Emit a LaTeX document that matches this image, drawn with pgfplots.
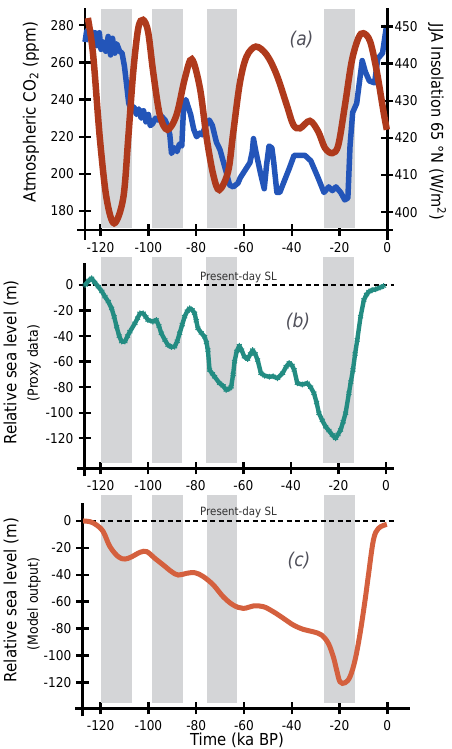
\documentclass[border=0pt]{standalone}
\usepackage{pgfplots}
\pgfplotsset{compat=1.18}
\usepackage{fontspec}
\setmainfont{DejaVu Sans}[FakeStretch=0.9]

\definecolor{shade}{RGB}{212,213,215}
\definecolor{co2blue}{RGB}{35,85,185}
\definecolor{insol}{RGB}{175,58,28}
\definecolor{proxy}{RGB}{35,140,130}
\definecolor{model}{RGB}{212,96,62}
\definecolor{panelgray}{RGB}{80,80,90}
\definecolor{sltext}{RGB}{50,50,50}

\pgfplotsset{
  panel/.style={
    scale only axis, clip=false,
    axis line style={line width=2.6pt,-},
    tick style={line width=2.4pt,black},
    major tick length=12pt, tick align=center,
    ticklabel style={font=\fontsize{13.5}{15}\selectfont, inner sep=1pt},
    /pgf/number format/assume math mode=true,
    xtick={-120,-100,...,0},
    xticklabel style={yshift=-5pt},
    yticklabel style={xshift=-4pt},
  },
}

\begin{document}
\begin{tikzpicture}[x=1pt,y=1pt]
\useasboundingbox (0,0) rectangle (451,749);

% ---------------- (a) CO2 and insolation ----------------
\begin{axis}[panel, at={(85pt,519pt)}, anchor=south west,
  width=302.3pt, height=222pt,
  xmin=-126.5, xmax=0, ymin=169.8, ymax=289.3,
  axis x line*=bottom, axis y line*=left,
  ytick={180,200,...,280},
  x axis line style={shorten <=-8pt, shorten >=-6pt},
  y axis line style={shorten <=-10pt}]
\addplot[fill=shade, draw=none] coordinates {(-119.7,170.9) (-106.8,170.9) (-106.8,288.8) (-119.7,288.8)};
\addplot[fill=shade, draw=none] coordinates {(-98.5,170.9) (-85.7,170.9) (-85.7,288.8) (-98.5,288.8)};
\addplot[fill=shade, draw=none] coordinates {(-75.6,170.9) (-62.8,170.9) (-62.8,288.8) (-75.6,288.8)};
\addplot[fill=shade, draw=none] coordinates {(-26.4,170.9) (-13.6,170.9) (-13.6,288.8) (-26.4,288.8)};
% atmospheric CO2
\addplot[co2blue, line width=5.5pt, line join=round] table {
-126.5 271
-125.8 277
-124.6 275
-124.0 277
-123.2 270
-122.3 276
-121.5 269
-120.5 276
-119.8 267
-118.8 271
-117.8 266
-116.8 274
-115.8 264
-115.0 273
-114.0 265
-113.2 270
-112.0 266
-111.0 265
-110.0 258
-109.0 247
-108.2 238
-107.0 234
-106.0 236
-105.0 232
-104.0 235
-103.0 230
-102.0 234
-101.0 228
-100.0 232
-99.2 226
-98.2 227
-97.0 230
-96.0 229
-94.5 231
-93.0 229
-92.0 226
-91.0 221
-90.3 211
-89.0 214
-88.0 212
-87.0 216
-86.0 215
-85.2 237
-84.3 240
-83.3 236
-82.3 232
-81.0 224
-79.8 220
-78.5 222
-77.5 221
-76.0 226
-74.5 229
-73.2 226
-71.5 217
-70.0 213
-68.5 206
-67.2 200
-66.0 194
-64.5 193
-62.5 195
-61.5 198
-57.5 206
-56.5 212
-56.0 219
-55.0 212
-53.0 200
-51.5 192
-50.5 205
-49.5 215
-48.3 214
-47.5 206
-46.2 190
-45.0 190
-41.0 203
-39.0 210
-34.5 210
-32.0 207
-29.0 198
-26.5 190
-24.5 193
-23.0 191
-21.5 193
-19.5 190
-17.8 186
-16.5 187
-15.6 215
-14.5 233
-12.8 238
-12.0 246
-10.5 261
-9.2 255
-7.5 250
-5.3 249
-4.0 262
-2.0 265
-0.3 280
};
\end{axis}

\begin{axis}[panel, at={(85pt,519pt)}, anchor=south west,
  width=302.3pt, height=222pt,
  xmin=-126.5, xmax=0, ymin=395.2, ymax=455,
  axis x line=none, axis y line*=right,
  ytick={400,410,...,450},
  yticklabel style={xshift=4pt},
  y axis line style={shorten <=-10pt}]
% JJA insolation at 65 N
\addplot[insol, line width=6.5pt, smooth, tension=0.55] table {
-125.3 452.3
-123.1 442.4
-120.3 420.0
-117.5 403.8
-114.3 397.0
-110.5 403.8
-108.4 420.0
-106.3 437.9
-104.2 449.6
-102.2 451.8
-100.1 448.6
-98.0 437.9
-95.2 426.2
-92.0 422.2
-88.2 426.2
-84.7 436.1
-81.8 441.2
-78.4 433.4
-75.6 420.0
-72.8 410.0
-70.3 406.0
-66.6 411.0
-64.5 421.3
-61.7 434.8
-58.9 441.9
-55.0 444.6
-50.5 442.4
-46.3 437.0
-42.1 428.9
-39.3 423.5
-36.5 422.6
-32.4 424.6
-28.9 421.7
-26.1 417.3
-23.0 415.9
-20.5 418.1
-17.7 428.9
-14.9 440.6
-12.1 446.9
-10.0 448.2
-7.2 446.0
-4.4 437.9
-1.6 427.1
-0.2 422.2
};
\end{axis}

% ---------------- (b) proxy sea level ----------------
\begin{axis}[panel, at={(84.5pt,280.7pt)}, anchor=south west,
  width=301.5pt, height=205pt,
  xmin=-126.8, xmax=0, ymin=-143.5, ymax=17,
  axis x line*=bottom, axis y line*=left,
  ytick={-120,-100,...,0},
  x axis line style={shorten <=-7.5pt, shorten >=-8pt},
  y axis line style={shorten <=-8pt}]
\addplot[fill=shade, draw=none] coordinates {(-119.7,-139.6) (-106.8,-139.6) (-106.8,21.7) (-119.7,21.7)};
\addplot[fill=shade, draw=none] coordinates {(-98.5,-139.6) (-85.7,-139.6) (-85.7,21.7) (-98.5,21.7)};
\addplot[fill=shade, draw=none] coordinates {(-75.6,-139.6) (-62.8,-139.6) (-62.8,21.7) (-75.6,21.7)};
\addplot[fill=shade, draw=none] coordinates {(-26.4,-139.6) (-13.6,-139.6) (-13.6,21.7) (-26.4,21.7)};
\addplot[black, line width=1.8pt, dash pattern=on 5pt off 3.5pt] coordinates {(-126.8,0) (3.2,0)};
\addplot[proxy, line width=4.4pt, line join=round, mark=asterisk, mark size=2.9pt, mark options={line width=1pt}] table {
-126.5 0
-125.0 3.5
-123.8 5.2
-122.5 2
-121.0 -1.3
-119.5 -5
-118.2 -9.1
-116.8 -13
-115.4 -18.3
-114.3 -25
-113.3 -32.6
-112.2 -40
-111.2 -44.3
-109.8 -44.3
-108.7 -40
-107.7 -36.5
-105.6 -30
-104.5 -26
-103.5 -22.2
-102.1 -22.2
-101.0 -25
-100.1 -27.4
-98.0 -28.7
-96.6 -27.4
-95.5 -32
-94.5 -37.8
-93.0 -43
-91.7 -47
-90.3 -48.5
-88.9 -48.3
-87.8 -44
-86.8 -37.8
-85.7 -31
-84.7 -24.8
-83.6 -20.5
-82.6 -18.2
-81.5 -19.5
-80.5 -22.1
-79.8 -28
-79.1 -33.9
-77.7 -37.5
-76.3 -40.5
-75.5 -45
-74.9 -50.9
-74.2 -66.5
-73.0 -69.5
-72.1 -71.8
-70.0 -76.9
-68.5 -79
-67.2 -82.2
-65.8 -81
-65.1 -79.6
-64.3 -70
-63.7 -60
-62.8 -52
-61.7 -47.5
-60.7 -51
-59.6 -56.1
-58.2 -58
-57.0 -54
-56.1 -51
-55.0 -54
-54.0 -58.7
-52.6 -69.1
-51.0 -71
-49.1 -71.8
-47.5 -71.5
-45.6 -73
-43.5 -69.1
-42.0 -64
-40.7 -61
-39.5 -63
-38.6 -66.5
-37.3 -76.9
-35.2 -77.9
-33.1 -76.9
-31.7 -80
-30.3 -84.7
-29.2 -92
-28.2 -100.4
-26.8 -106
-25.4 -110.9
-24.0 -114
-22.6 -117.4
-21.2 -120
-20.2 -117
-19.1 -113.5
-18.0 -107
-17.0 -100.4
-15.6 -84.7
-14.8 -76
-13.9 -66.5
-13.0 -54
-12.1 -43
-10.7 -24.8
-9.3 -11.7
-8.2 -7.5
-7.2 -5.2
-5.8 -4
-4.4 -3.4
-2.5 -2
-1.0 -0.8
};
\end{axis}

% ---------------- (c) modelled sea level ----------------
\begin{axis}[panel, at={(82.5pt,40.7pt)}, anchor=south west,
  width=304.8pt, height=205.6pt,
  xmin=-127.6, xmax=0, ymin=-139.3, ymax=13.6,
  axis x line*=bottom, axis y line*=left,
  ytick={-120,-100,...,0},
  x axis line style={shorten <=-7.5pt, shorten >=-22.7pt},
  y axis line style={shorten <=-8pt}]
\addplot[fill=shade, draw=none] coordinates {(-119.7,-135.6) (-106.8,-135.6) (-106.8,19.3) (-119.7,19.3)};
\addplot[fill=shade, draw=none] coordinates {(-98.5,-135.6) (-85.7,-135.6) (-85.7,19.3) (-98.5,19.3)};
\addplot[fill=shade, draw=none] coordinates {(-75.6,-135.6) (-62.8,-135.6) (-62.8,19.3) (-75.6,19.3)};
\addplot[fill=shade, draw=none] coordinates {(-26.4,-135.6) (-13.6,-135.6) (-13.6,19.3) (-26.4,19.3)};
\addplot[black, line width=1.8pt, dash pattern=on 5pt off 3.5pt] coordinates {(-127.6,0) (3.2,0)};
\addplot[model, line width=5pt, smooth, tension=0.6] table {
-127.3 0
-124.5 -0.5
-121.7 -3
-118.9 -8
-116.1 -19.1
-112.6 -26.6
-109.8 -28.3
-107.0 -26.6
-103.5 -23.3
-100.7 -22.8
-97.3 -27.8
-93.8 -32.7
-90.3 -37.7
-87.5 -40.2
-84.0 -38.9
-80.5 -38.5
-77.0 -41.4
-72.8 -47.6
-68.7 -56.3
-64.5 -62.5
-60.3 -65
-56.1 -63.2
-51.9 -63.7
-47.7 -67.5
-43.5 -72.4
-39.3 -77.4
-35.2 -80.6
-31.0 -82.4
-27.5 -84.8
-24.7 -91
-22.6 -101
-21.2 -110.9
-19.8 -119.6
-17.7 -120.3
-15.6 -115.8
-13.5 -103.4
-11.4 -83.6
-9.3 -58.8
-7.9 -40.2
-5.8 -14.1
-3.7 -5.5
-0.2 -2.5
};
\end{axis}

% ---------------- labels ----------------
\node[rotate=90, font=\fontsize{16.8}{19}\selectfont] at (31,637) {Atmospheric CO\textsubscript{2} (ppm)};
\node[rotate=-90, font=\fontsize{16.2}{19}\selectfont] at (437,627) {JJA Insolation 65 °N (W/m\textsuperscript{2})};
\node[font=\fontsize{19}{21}\selectfont\itshape, text=panelgray] at (301.5,709) {(a)};

\node[rotate=90, font=\fontsize{16.8}{19}\selectfont] at (11,386.5) {Relative sea level (m)};
\node[rotate=90, font=\fontsize{13.9}{16}\selectfont] at (34,386) {(Proxy data)};
\node[font=\fontsize{19}{21}\selectfont\itshape, text=panelgray] at (298,427) {(b)};
\node[font=\fontsize{11.4}{13}\selectfont, text=sltext] at (238.5,472) {Present-day SL};

\node[rotate=90, font=\fontsize{16.8}{19}\selectfont] at (11,149) {Relative sea level (m)};
\node[rotate=90, font=\fontsize{13.9}{16}\selectfont] at (34,145) {(Model output)};
\node[font=\fontsize{19}{21}\selectfont\itshape, text=panelgray] at (299,188) {(c)};
\node[font=\fontsize{11.4}{13}\selectfont, text=sltext] at (238.5,237) {Present-day SL};

\node[anchor=base, font=\fontsize{16.5}{19}\selectfont, inner sep=0pt] at (237,3.2) {Time (ka BP)};
\end{tikzpicture}
\end{document}
